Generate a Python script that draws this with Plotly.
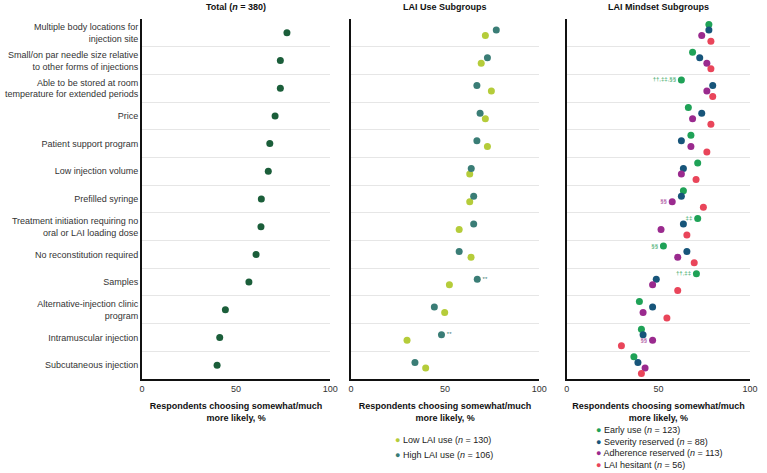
import plotly.graph_objects as go

attributes = [
    "Multiple body locations for<br>injection site",
    "Small/on par needle size relative<br>to other forms of injections",
    "Able to be stored at room<br>temperature for extended periods",
    "Price",
    "Patient support program",
    "Low injection volume",
    "Prefilled syringe",
    "Treatment initiation requiring no<br>oral or LAI loading dose",
    "No reconstitution required",
    "Samples",
    "Alternative-injection clinic<br>program",
    "Intramuscular injection",
    "Subcutaneous injection",
]

total = [77.0, 73.5, 73.5, 70.7, 67.9, 67.1, 63.4, 63.2, 60.6, 56.8, 44.3, 41.3, 39.9]
low_lai = [71.4, 69.2, 74.6, 71.4, 72.5, 63.1, 63.1, 57.5, 63.8, 52.3, 49.8, 29.8, 39.7]
high_lai = [77.2, 72.5, 66.9, 68.6, 66.9, 63.9, 65.2, 65.2, 57.5, 67.1, 44.3, 48.1, 34.0]
early = [77.5, 68.6, 62.5, 66.3, 67.7, 71.4, 63.6, 71.4, 52.7, 70.7, 39.6, 40.7, 36.6]
severity = [77.5, 72.5, 79.6, 73.6, 62.5, 63.6, 62.5, 63.6, 65.5, 48.8, 46.8, 41.6, 38.8]
adherence = [73.6, 76.4, 76.4, 68.6, 67.7, 62.5, 57.5, 51.4, 60.5, 46.8, 41.6, 46.8, 42.7]
hesitant = [78.6, 78.6, 79.6, 78.6, 76.4, 70.5, 74.5, 65.5, 69.5, 60.5, 54.6, 29.8, 40.7]

high_sig = ["", "", "", "", "", "", "", "", "", "**", "", "**", ""]
early_sig = ["", "", "††,‡‡,§§", "", "", "", "", "‡‡", "§§", "††,‡‡", "", "", ""]
adherence_sig = ["", "", "", "", "", "", "§§", "", "", "", "", "§§", ""]

panel_titles = ["Total (<i>n</i> = 380)", "LAI Use Subgroups", "LAI Mindset Subgroups"]
x_title = "Respondents choosing somewhat/much<br>more likely, %"
x_ticks = [0, 50, 100]

legend2 = [("Low LAI use (<i>n</i> = 130)", "#b5cc3a"),
           ("High LAI use (<i>n</i> = 106)", "#3a7d76")]
legend3 = [("Early use (<i>n</i> = 123)", "#1fa257"),
           ("Severity reserved (<i>n</i> = 88)", "#17557a"),
           ("Adherence reserved (<i>n</i> = 113)", "#9a2a8e"),
           ("LAI hesitant (<i>n</i> = 56)", "#e9455a")]

FONT = "Liberation Sans, Arial, sans-serif"
FS = 9
n = len(attributes)
rows = [n - 1 - i for i in range(n)]

W, H = 767, 473
domains = [(141 / W, 332 / W), (353 / W, 544 / W), (572 / W, 758 / W)]
ydom = (1 - 379 / H, 1 - 19 / H)

fig = go.Figure()


def add(xvals, offset, color, axis, text=None, tpos="middle right"):
    fig.add_trace(go.Scatter(
        x=xvals, y=[r + offset for r in rows],
        mode="markers+text" if text else "markers",
        text=text, textposition=tpos,
        textfont=dict(size=6, color=color, family=FONT),
        marker=dict(size=7, color=color),
        xaxis="x" + axis, yaxis="y" + axis,
        showlegend=False, cliponaxis=False, hoverinfo="x",
    ))


add(total, 0, "#1b5e3a", "")
add(low_lai, -0.1, legend2[0][1], "2")
add(high_lai, 0.1, legend2[1][1], "2", high_sig, "middle right")
add(early, 0.3, legend3[0][1], "3", early_sig, "middle left")
add(severity, 0.1, legend3[1][1], "3")
add(adherence, -0.1, legend3[2][1], "3", adherence_sig, "middle left")
add(hesitant, -0.3, legend3[3][1], "3")

layout = dict(
    width=W, height=H,
    margin=dict(l=0, r=0, t=0, b=0),
    paper_bgcolor="white", plot_bgcolor="white",
    font=dict(family=FONT, size=FS, color="#222"),
    showlegend=False,
)

for k, (d, suffix) in enumerate(zip(domains, ["", "2", "3"])):
    layout["xaxis" + suffix] = dict(
        domain=d, range=[0, 100], anchor="y" + suffix,
        tickvals=x_ticks, ticks="", showgrid=False, zeroline=False,
        showline=True, linecolor="#111", linewidth=2,
        tickfont=dict(size=FS, color="#333"),
        title=dict(text="<b>" + x_title + "</b>", font=dict(size=FS, color="#111"), standoff=10),
    )
    layout["yaxis" + suffix] = dict(
        domain=ydom, range=[-0.5, n - 0.5], anchor="x" + suffix,
        tickvals=rows, ticktext=attributes if k == 0 else None,
        showticklabels=(k == 0), ticks="", showgrid=False, zeroline=False,
        showline=True, linecolor="#111", linewidth=2,
        tickfont=dict(size=FS, color="#333"),
        minor=dict(tickvals=[r + 0.5 for r in range(n)], showgrid=True,
                   gridcolor="#e6e6e6", gridwidth=1, ticks=""),
        automargin=False,
    )

annotations = []
for d, t in zip(domains, panel_titles):
    annotations.append(dict(text="<b>" + t + "</b>", x=(d[0] + d[1]) / 2, y=1 - 7 / H,
                            xref="paper", yref="paper", showarrow=False,
                            font=dict(size=FS, color="#111"), xanchor="center", yanchor="middle"))

for i, (label, color) in enumerate(legend2):
    annotations.append(dict(text="<span style='color:%s'>●</span> %s" % (color, label),
                            x=396 / W, y=1 - (440 + 15 * i) / H, xref="paper", yref="paper",
                            showarrow=False, xanchor="left", yanchor="middle",
                            font=dict(size=FS, color="#222")))
for i, (label, color) in enumerate(legend3):
    annotations.append(dict(text="<span style='color:%s'>●</span> %s" % (color, label),
                            x=600 / W, y=1 - (430 + 11.7 * i) / H, xref="paper", yref="paper",
                            showarrow=False, xanchor="left", yanchor="middle",
                            font=dict(size=FS, color="#222")))

layout["annotations"] = annotations
fig.update_layout(**layout)
fig.write_html("out.html", config={"displayModeBar": False},
               post_script="document.body.style.margin='0';")
